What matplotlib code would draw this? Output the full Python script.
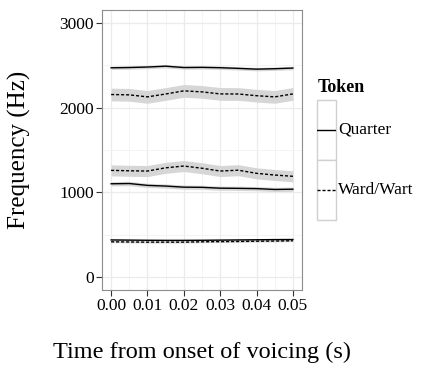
import matplotlib
matplotlib.use('Agg')
import matplotlib.pyplot as plt
from matplotlib.patches import Rectangle
from matplotlib.lines import Line2D

plt.rcParams['font.family'] = ['Liberation Serif', 'DejaVu Serif']

time = [0.000, 0.005, 0.010, 0.015, 0.020, 0.025, 0.030, 0.035, 0.040, 0.045, 0.050]

# Quarter (solid)
quarter_f1 = [440, 438, 436, 435, 435, 436, 438, 440, 442, 444, 445]
quarter_f2 = [1102, 1105, 1083, 1075, 1062, 1060, 1050, 1048, 1045, 1035, 1038]
quarter_f3 = [2469, 2472, 2478, 2488, 2472, 2474, 2470, 2462, 2453, 2458, 2466]
quarter_se = [12, 25, 20]

# Ward/Wart (dashed)
ward_f1 = [418, 416, 414, 414, 414, 418, 420, 422, 425, 427, 430]
ward_f2 = [1260, 1255, 1252, 1290, 1311, 1285, 1252, 1262, 1225, 1205, 1190]
ward_f3 = [2154, 2150, 2126, 2160, 2197, 2185, 2161, 2160, 2140, 2126, 2161]
ward_se = [10, 65, 75]

tokens = ['Quarter', 'Ward/Wart']
dash = (0, (2.2, 1.4))

fig = plt.figure(figsize=(4.27, 3.65), dpi=100)
ax = fig.add_axes([102/427, 1 - 290/365, 200/427, 280/365])

ribbon = '#d6d6d6'
for ys, se in zip([quarter_f1, quarter_f2, quarter_f3], quarter_se):
    ax.fill_between(time, [y - se for y in ys], [y + se for y in ys], color=ribbon, lw=0, zorder=2)
for ys, se in zip([ward_f1, ward_f2, ward_f3], ward_se):
    ax.fill_between(time, [y - se for y in ys], [y + se for y in ys], color=ribbon, lw=0, zorder=2)
for ys in [quarter_f1, quarter_f2, quarter_f3]:
    ax.plot(time, ys, color='black', lw=1.0, zorder=3)
for ys in [ward_f1, ward_f2, ward_f3]:
    ax.plot(time, ys, color='black', lw=1.0, linestyle=dash, zorder=3)

ax.set_xlim(-0.0025, 0.0525)
ax.set_ylim(-150, 3150)
ax.set_xticks([0, 0.01, 0.02, 0.03, 0.04, 0.05])
ax.set_xticklabels(['0.00', '0.01', '0.02', '0.03', '0.04', '0.05'])
ax.set_yticks([0, 1000, 2000, 3000])
ax.set_xticks([0.005, 0.015, 0.025, 0.035, 0.045], minor=True)
ax.set_yticks([500, 1500, 2500], minor=True)
ax.grid(True, which='major', color='#ebebeb', lw=0.9, zorder=0)
ax.grid(True, which='minor', color='#f3f3f3', lw=0.6, zorder=0)
ax.set_axisbelow(True)
ax.tick_params(which='major', direction='out', length=4, width=0.8, color='#333333',
               labelsize=12.5, labelcolor='black', pad=2)
ax.tick_params(which='minor', length=0)
for s in ax.spines.values():
    s.set_color('#8c8c8c')
    s.set_linewidth(0.8)

fig.text(19/427, 1 - 150/365, 'Frequency (Hz)', rotation=90, ha='center', va='center', fontsize=18)
fig.text(202/427, 1 - 352/365, 'Time from onset of voicing (s)', ha='center', va='center', fontsize=17.5)

# legend
fig.text(318/427, 1 - 88/365, 'Token', ha='left', va='center', fontsize=13, fontweight='bold')
for i, (tok, ls) in enumerate(zip(tokens, ['-', dash])):
    top = 100 + 60 * i
    kax = fig.add_axes([317/427, 1 - (top + 60)/365, 19/427, 60/365])
    kax.set_xlim(0, 1)
    kax.set_ylim(0, 1)
    kax.axis('off')
    kax.add_patch(Rectangle((0, 0), 1, 1, facecolor='white', edgecolor='#d0d0d0', lw=1.0,
                            transform=kax.transAxes, clip_on=False))
    kax.add_line(Line2D([0.02, 0.98], [0.5, 0.5], color='black', lw=1.0, linestyle=ls))
    fig.text(338/427, 1 - (top + 30)/365, tok, ha='left', va='center', fontsize=12.5)

fig.savefig('out.png', dpi=100)
